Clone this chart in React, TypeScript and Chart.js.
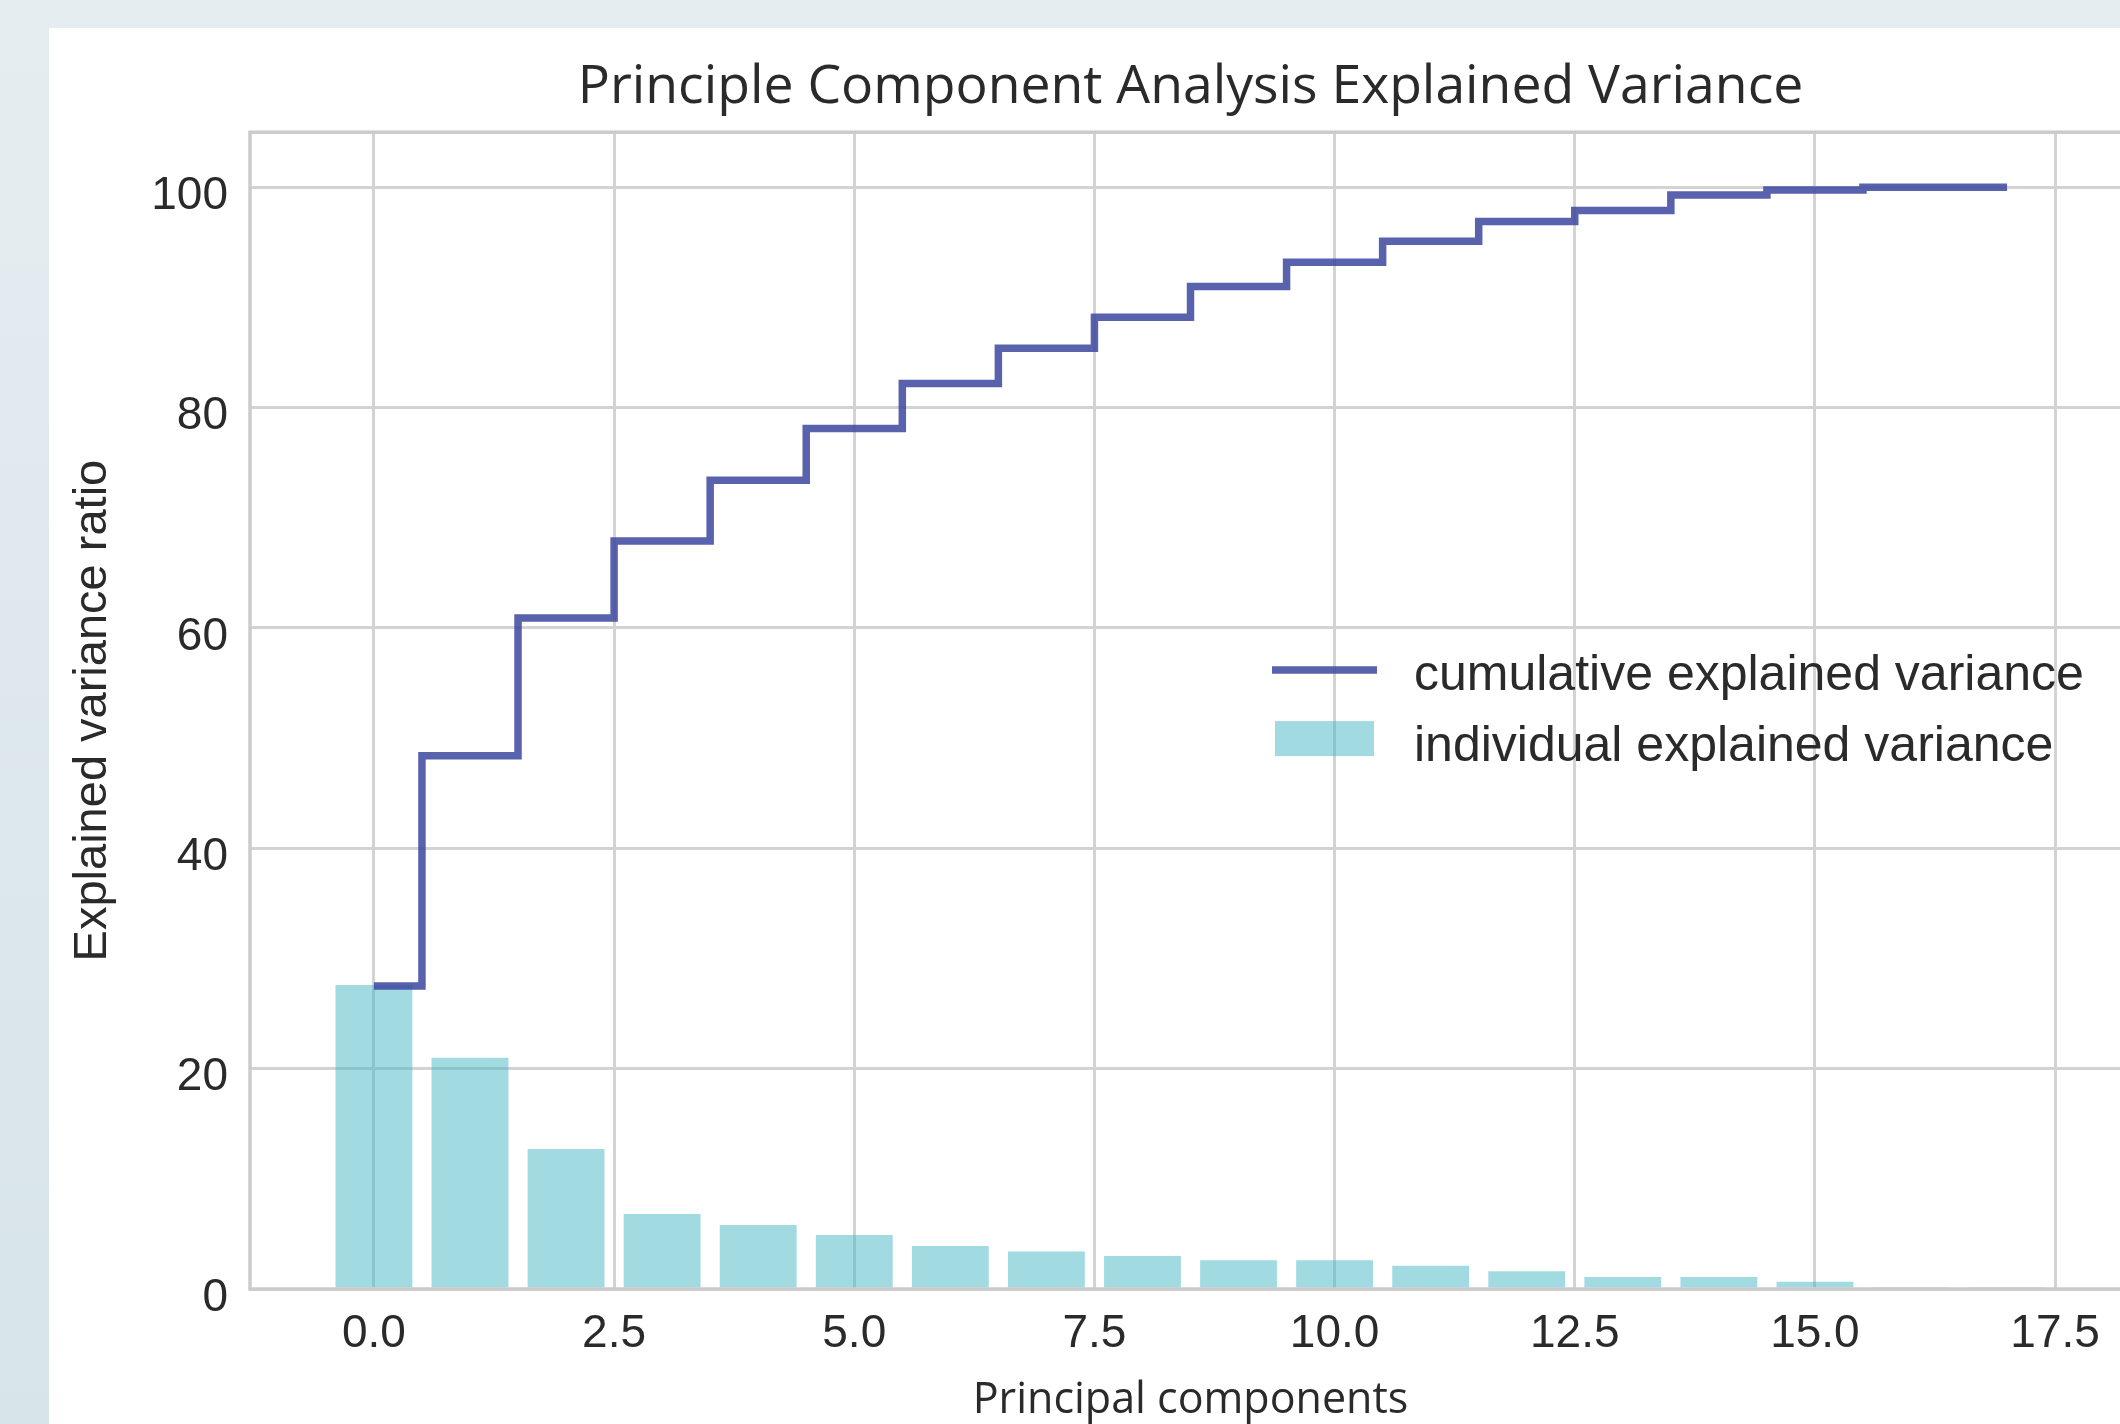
import React, { useEffect, useRef } from "react";
import { Chart, registerables } from "chart.js";

Chart.register(...registerables);

// ---- data ----
const components = [0, 1, 2, 3, 4, 5, 6, 7, 8, 9, 10, 11, 12, 13, 14, 15, 16, 17];
const individualVariance = [27.6, 21.0, 12.7, 6.8, 5.8, 4.9, 3.9, 3.4, 3.0, 2.6, 2.6, 2.1, 1.6, 1.1, 1.1, 0.65, 0.1, 0.05];
const cumulativeVariance = [27.5, 48.4, 60.9, 67.9, 73.4, 78.1, 82.2, 85.4, 88.2, 91.0, 93.2, 95.1, 96.9, 97.9, 99.3, 99.75, 100, 100];
const xTickValues = [0, 2.5, 5, 7.5, 10, 12.5, 15, 17.5];
const yTickValues = [0, 20, 40, 60, 80, 100];

const TITLE = "Principle Component Analysis Explained Variance";
const X_LABEL = "Principal components";
const Y_LABEL = "Explained variance ratio";
const LINE_LABEL = "cumulative explained variance";
const BAR_LABEL = "individual explained variance";

// ---- styles ----
const LINE_COLOR = "rgba(60, 72, 160, 0.86)";
const BAR_COLOR = "rgba(69, 181, 195, 0.5)";
const GRID_COLOR = "#d3d3d3";
const FRAME_COLOR = "#cbcbcb";
const TEXT_COLOR = "#2a2a2a";
const SANS = "'Liberation Sans', Arial, sans-serif";
const HUMANIST = "'Open Sans', 'Noto Sans', sans-serif";

const CANVAS_W = 2200;
const CANVAS_H = 1440;

const framePlugin = {
  id: "frameBox",
  afterDatasetsDraw(chart: any) {
    const { ctx, chartArea } = chart;
    ctx.save();
    ctx.strokeStyle = FRAME_COLOR;
    ctx.lineWidth = 3.5;
    ctx.strokeRect(chartArea.left, chartArea.top, chartArea.right - chartArea.left, chartArea.bottom - chartArea.top);
    ctx.restore();
  },
};

const legendPlugin = {
  id: "pcaLegend",
  afterDraw(chart: any) {
    const { ctx, chartArea } = chart;
    const R = chartArea.right;
    const C = (chartArea.top + chartArea.bottom) / 2;
    const lineDs: any = chart.data.datasets[0];
    const barDs: any = chart.data.datasets[1];
    ctx.save();
    ctx.strokeStyle = lineDs.borderColor;
    ctx.lineWidth = lineDs.borderWidth;
    ctx.lineCap = "butt";
    ctx.beginPath();
    ctx.moveTo(R - 859, C - 40.5);
    ctx.lineTo(R - 754, C - 40.5);
    ctx.stroke();
    ctx.fillStyle = barDs.backgroundColor;
    ctx.fillRect(R - 856, C + 10.5, 99, 35);
    ctx.fillStyle = TEXT_COLOR;
    ctx.font = `50px ${SANS}`;
    ctx.textAlign = "left";
    ctx.textBaseline = "alphabetic";
    ctx.fillText(lineDs.label, R - 717, C - 21);
    ctx.fillText(barDs.label, R - 717, C + 50);
    ctx.restore();
  },
};

export default function App() {
  const canvasRef = useRef<HTMLCanvasElement | null>(null);

  useEffect(() => {
    const canvas = canvasRef.current;
    if (!canvas) return;
    const chart = new Chart(canvas, {
      type: "bar",
      data: {
        datasets: [
          {
            type: "line",
            label: LINE_LABEL,
            data: components.map((c, i) => ({ x: c, y: cumulativeVariance[i] })),
            borderColor: LINE_COLOR,
            backgroundColor: LINE_COLOR,
            borderWidth: 7.5,
            pointRadius: 0,
            stepped: "middle",
            fill: false,
            order: 0,
            borderCapStyle: "butt",
            borderJoinStyle: "miter",
          } as any,
          {
            type: "bar",
            label: BAR_LABEL,
            data: components.map((c, i) => ({ x: c, y: individualVariance[i] })),
            backgroundColor: BAR_COLOR,
            borderWidth: 0,
            barPercentage: 0.8,
            categoryPercentage: 1.0,
            order: 1,
          } as any,
        ],
      },
      options: {
        responsive: false,
        animation: false,
        devicePixelRatio: 1,
        layout: { padding: { left: 0, top: 0, right: 118, bottom: 0 } },
        plugins: {
          legend: { display: false },
          tooltip: { enabled: false },
          title: {
            display: true,
            text: TITLE,
            fullSize: false,
            color: TEXT_COLOR,
            font: { family: HUMANIST, size: 53.5, weight: "normal" },
            padding: { top: 28, bottom: 12 },
          },
        },
        scales: {
          x: {
            type: "linear",
            min: -1.29,
            max: 18.29,
            offset: false,
            grid: { color: GRID_COLOR, lineWidth: 3, drawTicks: false, offset: false },
            border: { display: false },
            afterBuildTicks: (axis: any) => {
              axis.ticks = xTickValues.map((v) => ({ value: v }));
            },
            afterFit: (axis: any) => {
              axis.height = CANVAS_H - 1261;
            },
            ticks: {
              autoSkip: false,
              maxRotation: 0,
              padding: 18,
              color: TEXT_COLOR,
              font: { family: SANS, size: 46 },
              callback: (v: any) => Number(v).toFixed(1),
            },
            title: {
              display: true,
              text: X_LABEL,
              color: TEXT_COLOR,
              font: { family: HUMANIST, size: 43 },
              padding: { top: 0, bottom: 41 },
            },
          },
          y: {
            type: "linear",
            min: 0,
            max: 105,
            grid: { color: GRID_COLOR, lineWidth: 3, drawTicks: false },
            border: { display: false },
            afterBuildTicks: (axis: any) => {
              axis.ticks = yTickValues.map((v) => ({ value: v }));
            },
            afterFit: (axis: any) => {
              axis.width = 201;
            },
            ticks: {
              padding: 22,
              labelOffset: 9,
              color: TEXT_COLOR,
              font: { family: SANS, size: 46 },
              callback: (v: any) => String(v),
            },
            title: {
              display: true,
              text: Y_LABEL,
              color: TEXT_COLOR,
              font: { family: SANS, size: 47 },
              padding: { top: 16, bottom: 0 },
            },
          },
        },
      } as any,
      plugins: [framePlugin, legendPlugin],
    });
    return () => chart.destroy();
  }, []);

  return (
    <div
      style={{
        position: "fixed",
        left: 0,
        top: 0,
        width: 2120,
        height: 1424,
        overflow: "hidden",
        background: "linear-gradient(180deg, #e5edf0 0%, #d7e4e9 100%)",
      }}
    >
      <div
        style={{
          position: "absolute",
          left: 49,
          top: 28,
          width: 2300,
          height: 1500,
          background: "#ffffff",
        }}
      >
        <canvas ref={canvasRef} width={CANVAS_W} height={CANVAS_H} style={{ display: "block" }} />
      </div>
    </div>
  );
}
